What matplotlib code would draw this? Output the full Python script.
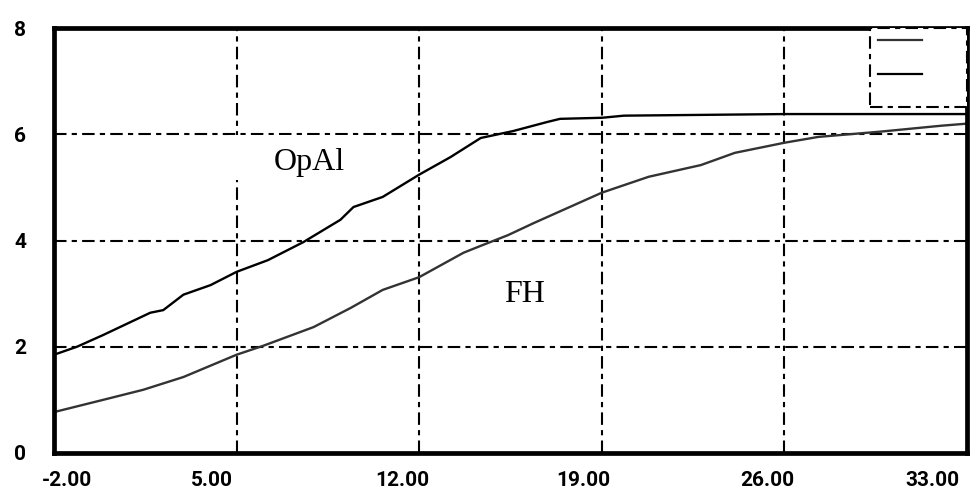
import matplotlib
matplotlib.use("Agg")
import matplotlib.pyplot as plt
import matplotlib.transforms as mtransforms
from matplotlib.lines import Line2D
from matplotlib.patches import Rectangle

# data
opal_x = [-2.0, -1.12, -0.12, 1.69, 2.19, 2.96, 4.0, 5.0, 6.2, 7.56, 8.98, 9.48,
          10.6, 12.0, 13.2, 14.36, 15.6, 16.9, 17.4, 19.0, 19.85, 26.0, 33.0]
opal_y = [1.85, 2.0, 2.22, 2.64, 2.69, 2.98, 3.16, 3.41, 3.63, 3.97, 4.39, 4.63,
          4.82, 5.24, 5.57, 5.93, 6.06, 6.23, 6.29, 6.31, 6.35, 6.38, 6.38]

fh_x = [-2.0, -0.12, 1.42, 2.96, 5.0, 6.03, 7.95, 9.37, 10.6, 12.0, 13.7, 14.36,
        15.4, 16.4, 19.0, 20.8, 22.8, 24.1, 26.0, 27.3, 29.7, 32.0, 33.0]
fh_y = [0.77, 1.0, 1.19, 1.43, 1.85, 2.02, 2.37, 2.73, 3.07, 3.31, 3.77, 3.9,
        4.1, 4.33, 4.9, 5.2, 5.42, 5.65, 5.84, 5.95, 6.05, 6.16, 6.2]

xticks = [-2, 5, 12, 19, 26, 33]
xtick_labels = ["-2.00", "5.00", "12.00", "19.00", "26.00", "33.00"]
xlabel_shift = [13, -25, -17, -18, -17, -35]   # pixels, labels sit off the ticks
yticks = [0, 2, 4, 6, 8]
ytick_labels = ["0", "2", "4", "6", "8"]

tick_font = ["Roboto", "DejaVu Sans"]
grid_dash = (0, (6, 2.5, 2.5, 2.5))

fig = plt.figure(figsize=(9.77, 4.91), dpi=100)
ax = fig.add_axes([54 / 977, 38 / 491, 913 / 977, 425 / 491])
ax.set_xlim(-2, 33)
ax.set_ylim(0, 8)

for gx in xticks[1:-1]:
    ax.axvline(gx, color="black", lw=1.5, ls=grid_dash, zorder=1)
for gy in yticks[1:-1]:
    ax.axhline(gy, color="black", lw=1.5, ls=grid_dash, zorder=1)

# white area behind the OpAl label hides part of the grid
ax.add_patch(Rectangle((4.7, 5.14), 6.0, 0.84, facecolor="white",
                       edgecolor="none", zorder=2))

ax.plot(fh_x, fh_y, color="#333333", lw=1.7, zorder=3)
ax.plot(opal_x, opal_y, color="black", lw=1.7, zorder=3)

ax.text(6.41, 5.33, "OpAl", family="Liberation Serif", fontsize=23,
        va="baseline", ha="left", zorder=4)
ax.text(15.24, 2.84, "FH", family="Liberation Serif", fontsize=23,
        va="baseline", ha="left", zorder=4)

ax.set_xticks(xticks)
ax.set_xticklabels(xtick_labels)
ax.set_yticks(yticks)
ax.set_yticklabels(ytick_labels)
ax.tick_params(length=0, labelsize=15)
ax.tick_params(axis="x", pad=13)
ax.tick_params(axis="y", pad=20)
for lab, dx in zip(ax.get_xticklabels(), xlabel_shift):
    lab.set_family(tick_font)
    lab.set_fontweight("bold")
    lab.set_transform(lab.get_transform() +
                      mtransforms.ScaledTranslation(dx / 100, 0, fig.dpi_scale_trans))
for lab in ax.get_yticklabels():
    lab.set_family(tick_font)
    lab.set_fontweight("bold")

for sp in ax.spines.values():
    sp.set_linewidth(3.4)
    sp.set_zorder(5)

# legend box: dash-dot frame in the top right corner, no label text
ax.add_patch(Rectangle((816 / 913, 346 / 425), 97 / 913, 79 / 425,
                       transform=ax.transAxes, facecolor="white",
                       edgecolor="black", lw=1.5, ls=grid_dash, zorder=6))
handles = [Line2D([], [], color="#333333", lw=1.6),
           Line2D([], [], color="black", lw=1.6)]
leg = ax.legend(handles, [" ", " "], loc="upper left",
                bbox_to_anchor=(818 / 913, 1), borderaxespad=0, fontsize=10,
                handlelength=3.2, handletextpad=0.5, borderpad=0.4,
                labelspacing=1.45, frameon=False)
leg.set_zorder(7)

fig.savefig("out.png", dpi=100)
